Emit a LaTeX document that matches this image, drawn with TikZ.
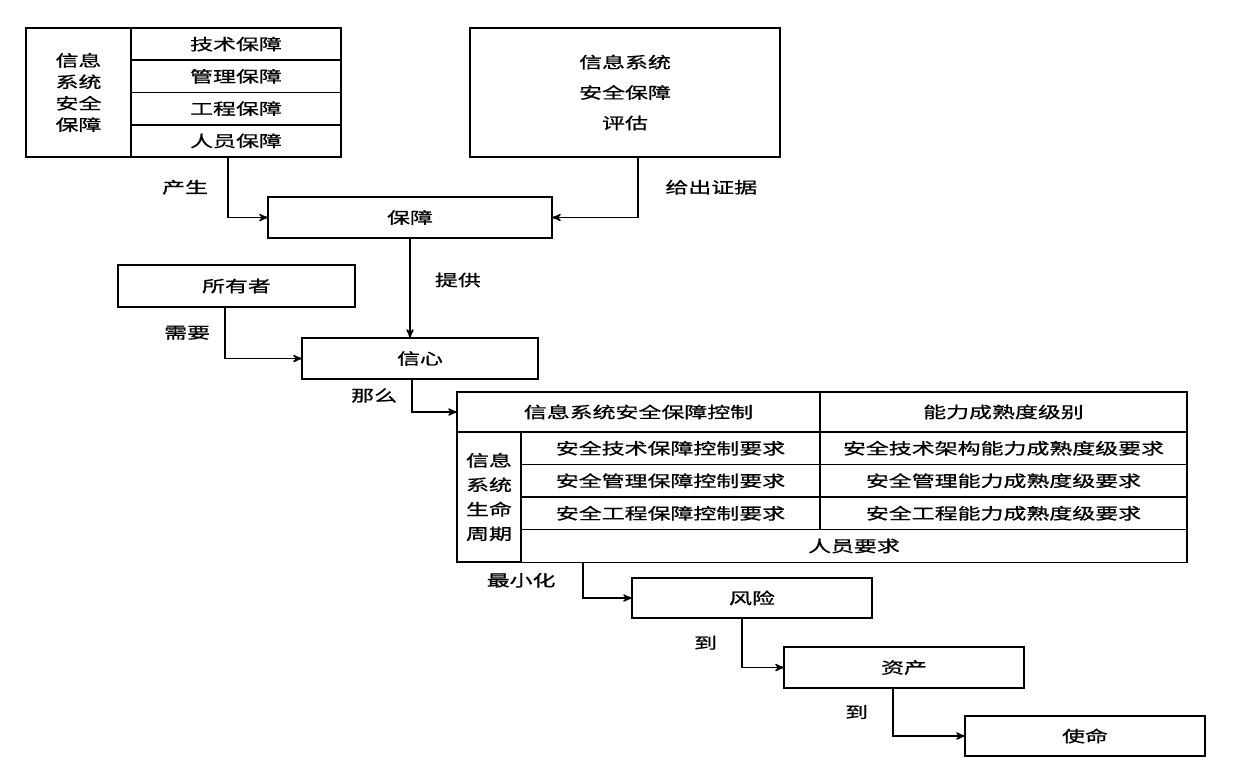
\documentclass[tikz,border=0pt]{standalone}
\usepackage{fontspec}
\newfontfamily\cjk[FakeStretch=1.45,FakeBold=0.9]{Noto Sans CJK SC}
\usetikzlibrary{arrows,positioning}

\begin{document}
\begin{tikzpicture}[>=stealth',auto,node distance=0pt,
    box/.style={draw,line width=1.1pt,inner sep=0pt,outer sep=0pt,align=center,
                font=\cjk\fontsize{9}{12}\selectfont},
    lbl/.style={font=\cjk\fontsize{9}{12}\selectfont,inner sep=1pt},
    conn/.style={->,line width=0.8pt}]

                \useasboundingbox (0,0) rectangle (25.12,-15.36);

                % left block
                \node[box,anchor=north west,minimum width=2.1cm,minimum height=2.58cm,
                      font=\cjk\fontsize{9}{12.2}\selectfont] (xtbz) at (0.52,-0.56) {信息\\系统\\安全\\保障};

                \node[box,anchor=north west,minimum width=4.2cm,minimum height=0.645cm] (jsbz) at (2.62,-0.56) {技术保障};

                \node[box,minimum width=4.2cm,minimum height=0.645cm] (glbz) [below=of jsbz] {管理保障};

                \node[box,minimum width=4.2cm,minimum height=0.645cm] (gcbz) [below=of glbz] {工程保障};

                \node[box,minimum width=4.2cm,minimum height=0.645cm] (rybz) [below=of gcbz] {人员保障};

                % assessment
                \node[box,anchor=north west,minimum width=6.2cm,minimum height=2.58cm,
                      font=\cjk\fontsize{9}{17.3}\selectfont] (pg) at (9.4,-0.56) {信息系统\\安全保障\\评估};

                \node[box,minimum width=5.68cm,minimum height=0.82cm] (bz) at (8.2,-4.35) {保障};

                \node[box,minimum width=4.74cm,minimum height=0.84cm] (syz) at (4.73,-5.72) {所有者};

                \node[box,minimum width=4.72cm,minimum height=0.82cm] (xx) at (8.4,-7.17) {信心};

                % table
                \node[box,anchor=north west,minimum width=7.26cm,minimum height=0.8cm] (kz) at (9.14,-7.84) {信息系统安全保障控制};

                \node[box,minimum width=7.34cm,minimum height=0.8cm] (nl) [right=of kz] {能力成熟度级别};

                \node[box,minimum width=1.28cm,minimum height=2.6cm,
                      font=\cjk\fontsize{9}{13.9}\selectfont] (smzq) [below right=of kz.south west] {信息\\系统\\生命\\周期};

                \node[box,minimum width=5.98cm,minimum height=0.65cm] (jskz) [below right=of smzq.north east] {安全技术保障控制要求};

                \node[box,minimum width=5.98cm,minimum height=0.65cm] (glkz) [below=of jskz] {安全管理保障控制要求};

                \node[box,minimum width=5.98cm,minimum height=0.65cm] (gckz) [below=of glkz] {安全工程保障控制要求};

                \node[box,minimum width=7.34cm,minimum height=0.65cm] (jsnl) [right=of jskz] {安全技术架构能力成熟度级要求};

                \node[box,minimum width=7.34cm,minimum height=0.65cm] (glnl) [right=of glkz] {安全管理能力成熟度级要求};

                \node[box,minimum width=7.34cm,minimum height=0.65cm] (gcnl) [right=of gckz] {安全工程能力成熟度级要求};

                \node[box,minimum width=13.32cm,minimum height=0.66cm] (ryyq) [below right=of gckz.south west] {人员要求};

                % chain
                \node[box,minimum width=4.8cm,minimum height=0.8cm] (fx) at (15.04,-11.96) {风险};

                \node[box,minimum width=4.8cm,minimum height=0.82cm] (zc) at (18.08,-13.35) {资产};

                \node[box,minimum width=4.8cm,minimum height=0.8cm] (sm) at (21.7,-14.72) {使命};

                % connectors
                \draw[conn] ([xshift=-0.16cm]rybz.south) |- node[lbl,pos=0.25,left=0.35cm] {产生} (bz.west);

                \draw[conn] ([xshift=0.26cm]pg.south) |- node[lbl,pos=0.25,right=0.5cm] {给出证据} (bz.east);

                \draw[conn] (bz.south) -- node[lbl,pos=0.42,right=0.45cm] {提供} (bz.south |- xx.north);

                \draw[conn] ([xshift=-0.23cm]syz.south) |- node[lbl,pos=0.25,left=0.25cm] {需要} (xx.west);

                \draw[conn] ([xshift=-0.16cm]xx.south) |- node[lbl,pos=0.25,left=0.25cm] {那么} (kz.west);

                \draw[conn] ([xshift=1.24cm]ryyq.south west) |- node[lbl,pos=0.25,left=0.5cm] {最小化} (fx.west);

                \foreach \from/\to/\dx in {fx/zc/-0.2cm, zc/sm/-0.22cm}
                    {
                    \draw[conn] ([xshift=\dx]\from.south) |- node[lbl,pos=0.25,left=0.45cm] {到} (\to.west);
                    }

\end{tikzpicture}
\end{document}
